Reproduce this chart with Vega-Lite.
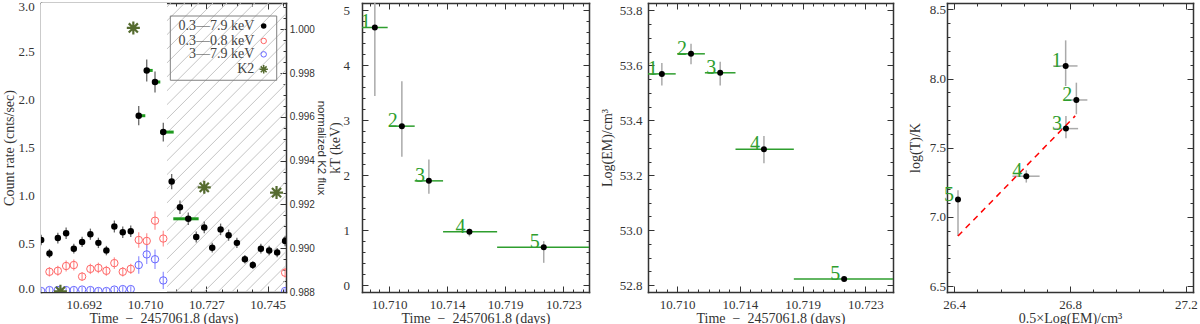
{
  "$schema": "https://vega.github.io/schema/vega-lite/v6.json",
  "background": "white",
  "padding": {"left": 2, "top": 0, "right": 0, "bottom": 0},
  "spacing": 1,
  "config": {
    "view": {"stroke": null},
    "axis": {
      "domainColor": "#333333", "domainWidth": 1.5, "domainCap": "square",
      "tickColor": "#333333", "tickWidth": 1,
      "labelFont": "Liberation Serif", "labelFontSize": 13, "labelColor": "#333333",
      "titleFont": "Liberation Serif", "titleFontSize": 14, "titleFontWeight": "normal", "titleColor": "#333333",
      "grid": false, "labelFlush": false, "labelOverlap": false, "zindex": 1
    }
  },
  "datasets": {
    "black": [
      {"t": 10.67975, "v": 0.54, "lo": 0.485, "hi": 0.595},
      {"t": 10.68213, "v": 0.40, "lo": 0.353, "hi": 0.447},
      {"t": 10.68454, "v": 0.56, "lo": 0.504, "hi": 0.616},
      {"t": 10.68692, "v": 0.61, "lo": 0.551, "hi": 0.669},
      {"t": 10.68913, "v": 0.45, "lo": 0.40, "hi": 0.50},
      {"t": 10.69151, "v": 0.52, "lo": 0.466, "hi": 0.574},
      {"t": 10.69389, "v": 0.60, "lo": 0.542, "hi": 0.658},
      {"t": 10.69619, "v": 0.51, "lo": 0.456, "hi": 0.564},
      {"t": 10.69849, "v": 0.43, "lo": 0.381, "hi": 0.479},
      {"t": 10.70078, "v": 0.68, "lo": 0.618, "hi": 0.742},
      {"t": 10.70319, "v": 0.62, "lo": 0.561, "hi": 0.679},
      {"t": 10.70549, "v": 0.63, "lo": 0.57, "hi": 0.69},
      {"t": 10.70778, "v": 1.83, "lo": 1.73, "hi": 1.93},
      {"t": 10.71008, "v": 2.30, "lo": 2.186, "hi": 2.414},
      {"t": 10.71246, "v": 2.18, "lo": 2.07, "hi": 2.29},
      {"t": 10.71484, "v": 1.66, "lo": 1.563, "hi": 1.757},
      {"t": 10.71725, "v": 1.146, "lo": 1.066, "hi": 1.226},
      {"t": 10.71963, "v": 0.88, "lo": 0.81, "hi": 0.95},
      {"t": 10.72202, "v": 0.76, "lo": 0.695, "hi": 0.825},
      {"t": 10.72431, "v": 0.57, "lo": 0.513, "hi": 0.627},
      {"t": 10.72661, "v": 0.67, "lo": 0.609, "hi": 0.731},
      {"t": 10.7289, "v": 0.46, "lo": 0.409, "hi": 0.511},
      {"t": 10.73131, "v": 0.65, "lo": 0.59, "hi": 0.71},
      {"t": 10.73361, "v": 0.59, "lo": 0.532, "hi": 0.648},
      {"t": 10.73599, "v": 0.51, "lo": 0.456, "hi": 0.564},
      {"t": 10.73829, "v": 0.34, "lo": 0.296, "hi": 0.384},
      {"t": 10.74058, "v": 0.28, "lo": 0.24, "hi": 0.32},
      {"t": 10.74288, "v": 0.45, "lo": 0.40, "hi": 0.50},
      {"t": 10.74526, "v": 0.43, "lo": 0.381, "hi": 0.479},
      {"t": 10.74756, "v": 0.41, "lo": 0.362, "hi": 0.458},
      {"t": 10.74985, "v": 0.53, "lo": 0.475, "hi": 0.585}
    ],
    "red": [
      {"t": 10.68213, "v": 0.21, "lo": 0.16, "hi": 0.26},
      {"t": 10.68454, "v": 0.22, "lo": 0.168, "hi": 0.272},
      {"t": 10.68692, "v": 0.27, "lo": 0.213, "hi": 0.327},
      {"t": 10.68913, "v": 0.28, "lo": 0.222, "hi": 0.338},
      {"t": 10.69151, "v": 0.16, "lo": 0.116, "hi": 0.204},
      {"t": 10.69389, "v": 0.24, "lo": 0.186, "hi": 0.294},
      {"t": 10.69619, "v": 0.25, "lo": 0.195, "hi": 0.305},
      {"t": 10.69849, "v": 0.22, "lo": 0.168, "hi": 0.272},
      {"t": 10.70078, "v": 0.30, "lo": 0.24, "hi": 0.36},
      {"t": 10.70319, "v": 0.21, "lo": 0.16, "hi": 0.26},
      {"t": 10.70549, "v": 0.24, "lo": 0.186, "hi": 0.294},
      {"t": 10.70778, "v": 0.54, "lo": 0.459, "hi": 0.621},
      {"t": 10.71008, "v": 0.53, "lo": 0.45, "hi": 0.61},
      {"t": 10.71246, "v": 0.74, "lo": 0.645, "hi": 0.835},
      {"t": 10.71484, "v": 0.555, "lo": 0.473, "hi": 0.637},
      {"t": 10.74985, "v": 0.20, "lo": 0.151, "hi": 0.249}
    ],
    "blue": [
      {"t": 10.67975, "v": 0.01, "lo": -0.02, "hi": 0.04},
      {"t": 10.68213, "v": 0.02, "lo": -0.01, "hi": 0.05},
      {"t": 10.68454, "v": 0.02, "lo": -0.01, "hi": 0.05},
      {"t": 10.68692, "v": 0.02, "lo": -0.01, "hi": 0.05},
      {"t": 10.68913, "v": 0.02, "lo": -0.01, "hi": 0.05},
      {"t": 10.69151, "v": 0.025, "lo": -0.005, "hi": 0.055},
      {"t": 10.69389, "v": 0.02, "lo": -0.01, "hi": 0.05},
      {"t": 10.69619, "v": 0.01, "lo": -0.02, "hi": 0.04},
      {"t": 10.69849, "v": 0.01, "lo": -0.02, "hi": 0.04},
      {"t": 10.70078, "v": 0.025, "lo": -0.005, "hi": 0.055},
      {"t": 10.70319, "v": 0.03, "lo": 0.0, "hi": 0.06},
      {"t": 10.70549, "v": 0.03, "lo": 0.0, "hi": 0.06},
      {"t": 10.70778, "v": 0.28, "lo": 0.19, "hi": 0.37},
      {"t": 10.71008, "v": 0.39, "lo": 0.29, "hi": 0.49},
      {"t": 10.71246, "v": 0.34, "lo": 0.24, "hi": 0.44},
      {"t": 10.71484, "v": 0.12, "lo": 0.03, "hi": 0.21},
      {"t": 10.74985, "v": 0.01, "lo": -0.02, "hi": 0.04}
    ],
    "k2": [
      {"t": 10.68528, "f": 0.98803},
      {"t": 10.70623, "f": 1.00006},
      {"t": 10.72661, "f": 0.99278},
      {"t": 10.74738, "f": 0.99254}
    ],
    "gbar": [
      {"t1": 10.70778, "t2": 10.70967, "v": 1.83},
      {"t1": 10.71008, "t2": 10.7118, "v": 2.30},
      {"t1": 10.71246, "t2": 10.71398, "v": 2.18},
      {"t1": 10.7139, "t2": 10.71783, "v": 1.66},
      {"t1": 10.71771, "t2": 10.725, "v": 0.76}
    ],
    "hatch": [
      {"h0": 10.634, "h1": 10.717}, {"h0": 10.638, "h1": 10.721}, {"h0": 10.642, "h1": 10.725},
      {"h0": 10.6461, "h1": 10.7291}, {"h0": 10.6501, "h1": 10.7331}, {"h0": 10.6541, "h1": 10.7371},
      {"h0": 10.6581, "h1": 10.7411}, {"h0": 10.6621, "h1": 10.7451}, {"h0": 10.6662, "h1": 10.7492},
      {"h0": 10.6702, "h1": 10.7532}, {"h0": 10.6742, "h1": 10.7572}, {"h0": 10.6782, "h1": 10.7612},
      {"h0": 10.6822, "h1": 10.7652}, {"h0": 10.6863, "h1": 10.7693}, {"h0": 10.6903, "h1": 10.7733},
      {"h0": 10.6943, "h1": 10.7773}, {"h0": 10.6983, "h1": 10.7813}, {"h0": 10.7023, "h1": 10.7853},
      {"h0": 10.7064, "h1": 10.7894}, {"h0": 10.7104, "h1": 10.7934}, {"h0": 10.7144, "h1": 10.7974},
      {"h0": 10.7184, "h1": 10.8014}, {"h0": 10.7224, "h1": 10.8054}, {"h0": 10.7265, "h1": 10.8095},
      {"h0": 10.7305, "h1": 10.8135}, {"h0": 10.7345, "h1": 10.8175}, {"h0": 10.7385, "h1": 10.8215},
      {"h0": 10.7425, "h1": 10.8255}, {"h0": 10.7466, "h1": 10.8296}
    ],
    "bins": [
      {"bin": "1", "t": 10.70895, "t1": 10.7078, "t2": 10.7099, "kT": 4.685, "kTlo": 3.44, "kThi": 5.93, "em": 53.569, "emlo": 53.527, "emhi": 53.609, "hx": 26.785, "hxlo": 26.742, "hxhi": 26.826, "lt": 8.091, "ltlo": 7.946, "lthi": 8.276},
      {"bin": "2", "t": 10.71095, "t1": 10.71, "t2": 10.7119, "kT": 2.893, "kTlo": 2.335, "kThi": 3.71, "em": 53.642, "emlo": 53.604, "emhi": 53.679, "hx": 26.822, "hxlo": 26.785, "hxhi": 26.86, "lt": 7.845, "ltlo": 7.742, "lthi": 7.97},
      {"bin": "3", "t": 10.71295, "t1": 10.7119, "t2": 10.714, "kT": 1.899, "kTlo": 1.663, "kThi": 2.288, "em": 53.573, "emlo": 53.527, "emhi": 53.613, "hx": 26.786, "hxlo": 26.745, "hxhi": 26.828, "lt": 7.638, "ltlo": 7.568, "lthi": 7.73},
      {"bin": "4", "t": 10.71595, "t1": 10.714, "t2": 10.718, "kT": 0.973, "kTlo": 0.89, "kThi": 1.028, "em": 53.295, "emlo": 53.244, "emhi": 53.343, "hx": 26.649, "hxlo": 26.601, "hxhi": 26.695, "lt": 7.294, "ltlo": 7.248, "lthi": 7.337},
      {"bin": "5", "t": 10.72145, "t1": 10.718, "t2": 10.7255, "kT": 0.695, "kTlo": 0.41, "kThi": 0.804, "em": 52.822, "emlo": 52.817, "emhi": 52.827, "hx": 26.413, "hxlo": 26.413, "hxhi": 26.413, "lt": 7.125, "ltlo": 6.862, "lthi": 7.193}
    ],
    "fit": [
      {"x": 26.413, "y": 6.862},
      {"x": 26.818, "y": 7.73}
    ]
  },
  "hconcat": [
    {
      "width": 245, "height": 289,
      "layer": [
        {
          "layer": [
            {
              "data": {"name": "hatch"},
              "mark": {"type": "rule", "color": "#c4c4c4", "strokeWidth": 1, "clip": true},
              "encoding": {
                "x": {"field": "h0", "type": "quantitative", "scale": {"domain": [10.6797, 10.7501], "nice": false, "zero": false}, "axis": null},
                "x2": {"field": "h1"},
                "y": {"datum": 0, "type": "quantitative", "scale": {"domain": [0, 3], "nice": false, "zero": false}, "axis": null},
                "y2": {"datum": 3}
              }
            },
            {
              "data": {"values": [{}]},
              "mark": {"type": "rect", "color": "white", "opacity": 1},
              "encoding": {
                "x": {"datum": 10.6797, "type": "quantitative", "scale": {"domain": [10.6797, 10.7501], "nice": false, "zero": false}, "axis": null},
                "x2": {"datum": 10.7159},
                "y": {"datum": 0, "type": "quantitative", "scale": {"domain": [0, 3], "nice": false, "zero": false}, "axis": null},
                "y2": {"datum": 3}
              }
            },
            {
              "data": {"values": [{}]},
              "mark": {"type": "rect", "fill": null, "fillOpacity": 0, "stroke": "#808080", "strokeWidth": 1},
              "encoding": {
                "x": {"datum": 10.71686, "type": "quantitative", "scale": {"domain": [10.6797, 10.7501], "nice": false, "zero": false}, "axis": null},
                "x2": {"datum": 10.74743},
                "y": {"datum": 2.198, "type": "quantitative", "scale": {"domain": [0, 3], "nice": false, "zero": false}, "axis": null},
                "y2": {"datum": 2.865}
              }
            },
            {
              "data": {"name": "black"},
              "mark": {"type": "rule", "color": "#666666", "strokeWidth": 1.3, "clip": true},
              "encoding": {
                "x": {"field": "t", "type": "quantitative", "scale": {"domain": [10.6797, 10.7501], "nice": false, "zero": false},
                  "axis": {"orient": "bottom", "title": "Time\u2002\u2212\u20022457061.8 (days)",
                    "values": [10.6832, 10.6876, 10.692, 10.6964, 10.7008, 10.7052, 10.7096, 10.714, 10.7184, 10.7228, 10.7272, 10.7316, 10.736, 10.7404, 10.7448, 10.7492],
                    "labelExpr": "abs((datum.value-10.692)/0.0176-round((datum.value-10.692)/0.0176))<0.05 ? format(datum.value, '.3f') : ''",
                    "tickSize": {"condition": {"test": "abs((datum.value-10.692)/0.0176-round((datum.value-10.692)/0.0176))<0.05", "value": -6}, "value": -3},
                    "labelPadding": 12.3, "titlePadding": -2.5}},
                "y": {"field": "lo", "type": "quantitative", "scale": {"domain": [0, 3], "nice": false, "zero": false},
                  "axis": {"orient": "left", "title": "Count rate (cnts/sec)",
                    "values": [0, 0.1, 0.2, 0.3, 0.4, 0.5, 0.6, 0.7, 0.8, 0.9, 1, 1.1, 1.2, 1.3, 1.4, 1.5, 1.6, 1.7, 1.8, 1.9, 2, 2.1, 2.2, 2.3, 2.4, 2.5, 2.6, 2.7, 2.8, 2.9, 3],
                    "labelExpr": "abs(datum.value*2-round(datum.value*2))<0.01 ? format(datum.value, '.1f') : ''",
                    "tickSize": {"condition": {"test": "abs(datum.value*2-round(datum.value*2))<0.01", "value": -6}, "value": -3},
                    "labelFlush": 2, "labelFlushOffset": 3,
                    "labelPadding": 12.7, "titlePadding": 2}},
                "y2": {"field": "hi"}
              }
            },
            {
              "data": {"name": "red"},
              "mark": {"type": "rule", "color": "#ff9a9a", "strokeWidth": 1.3, "clip": true},
              "encoding": {
                "x": {"field": "t", "type": "quantitative", "scale": {"domain": [10.6797, 10.7501], "nice": false, "zero": false}, "axis": null},
                "y": {"field": "lo", "type": "quantitative", "scale": {"domain": [0, 3], "nice": false, "zero": false}, "axis": null},
                "y2": {"field": "hi"}
              }
            },
            {
              "data": {"name": "blue"},
              "mark": {"type": "rule", "color": "#9a9aff", "strokeWidth": 1.3, "clip": true},
              "encoding": {
                "x": {"field": "t", "type": "quantitative", "scale": {"domain": [10.6797, 10.7501], "nice": false, "zero": false}, "axis": null},
                "y": {"field": "lo", "type": "quantitative", "scale": {"domain": [0, 3], "nice": false, "zero": false}, "axis": null},
                "y2": {"field": "hi"}
              }
            },
            {
              "data": {"name": "red"},
              "mark": {"type": "point", "shape": "circle", "filled": false, "color": "#ff6666", "size": 55, "strokeWidth": 1, "opacity": 1, "clip": true},
              "encoding": {
                "x": {"field": "t", "type": "quantitative", "scale": {"domain": [10.6797, 10.7501], "nice": false, "zero": false}, "axis": null},
                "y": {"field": "v", "type": "quantitative", "scale": {"domain": [0, 3], "nice": false, "zero": false}, "axis": null}
              }
            },
            {
              "data": {"name": "blue"},
              "mark": {"type": "point", "shape": "circle", "filled": false, "color": "#6666ff", "size": 55, "strokeWidth": 1, "opacity": 1, "clip": true},
              "encoding": {
                "x": {"field": "t", "type": "quantitative", "scale": {"domain": [10.6797, 10.7501], "nice": false, "zero": false}, "axis": null},
                "y": {"field": "v", "type": "quantitative", "scale": {"domain": [0, 3], "nice": false, "zero": false}, "axis": null}
              }
            },
            {
              "data": {"name": "gbar"},
              "mark": {"type": "rule", "color": "#1f9a1f", "strokeWidth": 3, "clip": true},
              "encoding": {
                "x": {"field": "t1", "type": "quantitative", "scale": {"domain": [10.6797, 10.7501], "nice": false, "zero": false}, "axis": null},
                "x2": {"field": "t2"},
                "y": {"field": "v", "type": "quantitative", "scale": {"domain": [0, 3], "nice": false, "zero": false}, "axis": null}
              }
            },
            {
              "data": {"name": "black"},
              "mark": {"type": "point", "shape": "circle", "filled": true, "color": "black", "size": 42, "opacity": 1, "clip": true},
              "encoding": {
                "x": {"field": "t", "type": "quantitative", "scale": {"domain": [10.6797, 10.7501], "nice": false, "zero": false},
                  "axis": {"orient": "top", "title": null, "labels": false,
                    "values": [10.6832, 10.6876, 10.692, 10.6964, 10.7008, 10.7052, 10.7096, 10.714, 10.7184, 10.7228, 10.7272, 10.7316, 10.736, 10.7404, 10.7448, 10.7492],
                    "tickSize": {"condition": {"test": "abs((datum.value-10.692)/0.0176-round((datum.value-10.692)/0.0176))<0.05", "value": -6}, "value": -3}}},
                "y": {"field": "v", "type": "quantitative", "scale": {"domain": [0, 3], "nice": false, "zero": false}, "axis": null}
              }
            },
            {
              "data": {"values": [{}]},
              "mark": {"type": "text", "text": "0.3\u20147.9 keV", "align": "right", "baseline": "middle", "font": "Liberation Serif", "fontSize": 14, "color": "#444444"},
              "encoding": {
                "x": {"datum": 10.74099, "type": "quantitative", "scale": {"domain": [10.6797, 10.7501], "nice": false, "zero": false}, "axis": null},
                "y": {"datum": 2.761, "type": "quantitative", "scale": {"domain": [0, 3], "nice": false, "zero": false}, "axis": null}
              }
            },
            {
              "data": {"values": [{}]},
              "mark": {"type": "text", "text": "0.3\u20140.8 keV", "align": "right", "baseline": "middle", "font": "Liberation Serif", "fontSize": 14, "color": "#444444"},
              "encoding": {
                "x": {"datum": 10.74099, "type": "quantitative", "scale": {"domain": [10.6797, 10.7501], "nice": false, "zero": false}, "axis": null},
                "y": {"datum": 2.606, "type": "quantitative", "scale": {"domain": [0, 3], "nice": false, "zero": false}, "axis": null}
              }
            },
            {
              "data": {"values": [{}]},
              "mark": {"type": "text", "text": "3\u20147.9 keV", "align": "right", "baseline": "middle", "font": "Liberation Serif", "fontSize": 14, "color": "#444444"},
              "encoding": {
                "x": {"datum": 10.74099, "type": "quantitative", "scale": {"domain": [10.6797, 10.7501], "nice": false, "zero": false}, "axis": null},
                "y": {"datum": 2.467, "type": "quantitative", "scale": {"domain": [0, 3], "nice": false, "zero": false}, "axis": null}
              }
            },
            {
              "data": {"values": [{}]},
              "mark": {"type": "text", "text": "K2", "align": "right", "baseline": "middle", "font": "Liberation Serif", "fontSize": 14, "color": "#444444"},
              "encoding": {
                "x": {"datum": 10.74099, "type": "quantitative", "scale": {"domain": [10.6797, 10.7501], "nice": false, "zero": false}, "axis": null},
                "y": {"datum": 2.312, "type": "quantitative", "scale": {"domain": [0, 3], "nice": false, "zero": false}, "axis": null}
              }
            },
            {
              "data": {"values": [{}]},
              "mark": {"type": "point", "shape": "circle", "filled": true, "color": "black", "size": 30, "opacity": 1},
              "encoding": {
                "x": {"datum": 10.74369, "type": "quantitative", "scale": {"domain": [10.6797, 10.7501], "nice": false, "zero": false}, "axis": null},
                "y": {"datum": 2.761, "type": "quantitative", "scale": {"domain": [0, 3], "nice": false, "zero": false}, "axis": null}
              }
            },
            {
              "data": {"values": [{}]},
              "mark": {"type": "point", "shape": "circle", "filled": false, "color": "#ff6666", "size": 30, "strokeWidth": 1, "opacity": 1},
              "encoding": {
                "x": {"datum": 10.74369, "type": "quantitative", "scale": {"domain": [10.6797, 10.7501], "nice": false, "zero": false}, "axis": null},
                "y": {"datum": 2.606, "type": "quantitative", "scale": {"domain": [0, 3], "nice": false, "zero": false}, "axis": null}
              }
            },
            {
              "data": {"values": [{}]},
              "mark": {"type": "point", "shape": "circle", "filled": false, "color": "#6666ff", "size": 30, "strokeWidth": 1, "opacity": 1},
              "encoding": {
                "x": {"datum": 10.74369, "type": "quantitative", "scale": {"domain": [10.6797, 10.7501], "nice": false, "zero": false}, "axis": null},
                "y": {"datum": 2.467, "type": "quantitative", "scale": {"domain": [0, 3], "nice": false, "zero": false}, "axis": null}
              }
            },
            {
              "data": {"values": [{}]},
              "mark": {"type": "point", "shape": "M-1,0L1,0M0,-1L0,1M-0.7,-0.7L0.7,0.7M-0.7,0.7L0.7,-0.7", "filled": false, "color": "#556b2f", "size": 70, "strokeWidth": 1.5, "opacity": 1},
              "encoding": {
                "x": {"datum": 10.74369, "type": "quantitative", "scale": {"domain": [10.6797, 10.7501], "nice": false, "zero": false}, "axis": null},
                "y": {"datum": 2.312, "type": "quantitative", "scale": {"domain": [0, 3], "nice": false, "zero": false}, "axis": null}
              }
            }
          ],
          "resolve": {"axis": {"x": "independent", "y": "independent"}}
        },
        {
          "data": {"name": "k2"},
          "mark": {"type": "point", "shape": "M-1,0L1,0M0,-1L0,1M-0.7,-0.7L0.7,0.7M-0.7,0.7L0.7,-0.7", "filled": false, "color": "#556b2f", "size": 170, "strokeWidth": 2.2, "opacity": 1, "clip": true},
          "encoding": {
            "x": {"field": "t", "type": "quantitative", "scale": {"domain": [10.6797, 10.7501], "nice": false, "zero": false}, "axis": null},
            "y": {"field": "f", "type": "quantitative", "scale": {"domain": [0.988, 1.0012], "nice": false, "zero": false},
              "axis": {"orient": "right", "title": "normalized K2 flux",
                "values": [0.988, 0.9885, 0.989, 0.9895, 0.99, 0.9905, 0.991, 0.9915, 0.992, 0.9925, 0.993, 0.9935, 0.994, 0.9945, 0.995, 0.9955, 0.996, 0.9965, 0.997, 0.9975, 0.998, 0.9985, 0.999, 0.9995, 1.0, 1.0005, 1.001],
                "labelExpr": "abs((datum.value-0.988)/0.002-round((datum.value-0.988)/0.002))<0.05 ? format(datum.value, '.3f') : ''",
                "tickSize": {"condition": {"test": "abs((datum.value-0.988)/0.002-round((datum.value-0.988)/0.002))<0.05", "value": -6}, "value": -3},
                "labelFont": "Liberation Sans", "labelFontSize": 10, "titleFont": "Liberation Sans", "titleFontSize": 11.5,
                "labelPadding": 9.3, "titlePadding": 1}}
          }
        }
      ],
      "resolve": {"scale": {"y": "independent"}, "axis": {"x": "independent", "y": "independent"}}
    },
    {
      "width": 227, "height": 289,
      "data": {"name": "bins"},
      "layer": [
        {
          "mark": {"type": "rule", "color": "#aaaaaa", "strokeWidth": 1.5, "clip": true},
          "encoding": {
            "x": {"field": "t", "type": "quantitative", "scale": {"domain": [10.708, 10.7248], "nice": false, "zero": false},
              "axis": {"orient": "bottom", "title": "Time\u2002\u2212\u20022457061.8 (days)",
                "values": [10.70857, 10.70928, 10.71, 10.71072, 10.71143, 10.71215, 10.71287, 10.71358, 10.7143, 10.71502, 10.71573, 10.71645, 10.71717, 10.71788, 10.7186, 10.71932, 10.72003, 10.72075, 10.72147, 10.72218, 10.7229, 10.72362, 10.72433],
                "labelExpr": "abs((datum.value-10.71)/0.0043-round((datum.value-10.71)/0.0043))<0.05 ? format(datum.value, '.3f') : ''",
                "tickSize": {"condition": {"test": "abs((datum.value-10.71)/0.0043-round((datum.value-10.71)/0.0043))<0.05", "value": -6}, "value": -3},
                "labelPadding": 12.3, "titlePadding": -2.5}},
            "y": {"field": "kTlo", "type": "quantitative", "scale": {"domain": [-0.12, 5.13], "nice": false, "zero": false},
              "axis": {"orient": "left", "title": "kT (keV)",
                "values": [0, 0.2, 0.4, 0.6, 0.8, 1, 1.2, 1.4, 1.6, 1.8, 2, 2.2, 2.4, 2.6, 2.8, 3, 3.2, 3.4, 3.6, 3.8, 4, 4.2, 4.4, 4.6, 4.8, 5],
                "labelExpr": "abs(datum.value-round(datum.value))<0.01 ? format(datum.value, '.0f') : ''",
                "tickSize": {"condition": {"test": "abs(datum.value-round(datum.value))<0.01", "value": -6}, "value": -3},
                "labelPadding": 18.5, "titlePadding": 1}},
            "y2": {"field": "kThi"}
          }
        },
        {
          "mark": {"type": "rule", "color": "#2e9e2e", "strokeWidth": 1.5, "clip": true},
          "encoding": {
            "x": {"field": "t1", "type": "quantitative", "scale": {"domain": [10.708, 10.7248], "nice": false, "zero": false},
              "axis": {"orient": "top", "title": null, "labels": false,
                "values": [10.70857, 10.70928, 10.71, 10.71072, 10.71143, 10.71215, 10.71287, 10.71358, 10.7143, 10.71502, 10.71573, 10.71645, 10.71717, 10.71788, 10.7186, 10.71932, 10.72003, 10.72075, 10.72147, 10.72218, 10.7229, 10.72362, 10.72433],
                "tickSize": {"condition": {"test": "abs((datum.value-10.71)/0.0043-round((datum.value-10.71)/0.0043))<0.05", "value": -6}, "value": -3}}},
            "x2": {"field": "t2"},
            "y": {"field": "kT", "type": "quantitative", "scale": {"domain": [-0.12, 5.13], "nice": false, "zero": false},
              "axis": {"orient": "right", "title": null, "labels": false,
                "values": [0, 0.2, 0.4, 0.6, 0.8, 1, 1.2, 1.4, 1.6, 1.8, 2, 2.2, 2.4, 2.6, 2.8, 3, 3.2, 3.4, 3.6, 3.8, 4, 4.2, 4.4, 4.6, 4.8, 5],
                "tickSize": {"condition": {"test": "abs(datum.value-round(datum.value))<0.01", "value": -6}, "value": -3},
                "minExtent": 9.7, "maxExtent": 9.7}}
          }
        },
        {
          "mark": {"type": "point", "shape": "circle", "filled": true, "color": "black", "size": 36, "opacity": 1, "clip": true},
          "encoding": {
            "x": {"field": "t", "type": "quantitative", "scale": {"domain": [10.708, 10.7248], "nice": false, "zero": false}, "axis": null},
            "y": {"field": "kT", "type": "quantitative", "scale": {"domain": [-0.12, 5.13], "nice": false, "zero": false}, "axis": null}
          }
        },
        {
          "mark": {"type": "text", "font": "Liberation Serif", "fontSize": 20, "color": "#2e9e2e", "dx": -9, "dy": 1, "align": "center", "baseline": "alphabetic"},
          "encoding": {
            "x": {"field": "t", "type": "quantitative", "scale": {"domain": [10.708, 10.7248], "nice": false, "zero": false}, "axis": null},
            "y": {"field": "kT", "type": "quantitative", "scale": {"domain": [-0.12, 5.13], "nice": false, "zero": false}, "axis": null},
            "text": {"field": "bin", "type": "nominal"}
          }
        }
      ],
      "resolve": {"axis": {"x": "independent", "y": "independent"}}
    },
    {
      "width": 245, "height": 289,
      "data": {"name": "bins"},
      "layer": [
        {
          "mark": {"type": "rule", "color": "#aaaaaa", "strokeWidth": 1.5, "clip": true},
          "encoding": {
            "x": {"field": "t", "type": "quantitative", "scale": {"domain": [10.708, 10.7248], "nice": false, "zero": false},
              "axis": {"orient": "bottom", "title": "Time\u2002\u2212\u20022457061.8 (days)",
                "values": [10.70857, 10.70928, 10.71, 10.71072, 10.71143, 10.71215, 10.71287, 10.71358, 10.7143, 10.71502, 10.71573, 10.71645, 10.71717, 10.71788, 10.7186, 10.71932, 10.72003, 10.72075, 10.72147, 10.72218, 10.7229, 10.72362, 10.72433],
                "labelExpr": "abs((datum.value-10.71)/0.0043-round((datum.value-10.71)/0.0043))<0.05 ? format(datum.value, '.3f') : ''",
                "tickSize": {"condition": {"test": "abs((datum.value-10.71)/0.0043-round((datum.value-10.71)/0.0043))<0.05", "value": -6}, "value": -3},
                "labelPadding": 12.3, "titlePadding": -2.5}},
            "y": {"field": "emlo", "type": "quantitative", "scale": {"domain": [52.775, 53.827], "nice": false, "zero": false},
              "axis": {"orient": "left", "title": "Log(EM)/cm\u00b3",
                "values": [52.8, 52.85, 52.9, 52.95, 53, 53.05, 53.1, 53.15, 53.2, 53.25, 53.3, 53.35, 53.4, 53.45, 53.5, 53.55, 53.6, 53.65, 53.7, 53.75, 53.8],
                "labelExpr": "abs((datum.value-52.8)/0.2-round((datum.value-52.8)/0.2))<0.05 ? format(datum.value, '.1f') : ''",
                "tickSize": {"condition": {"test": "abs((datum.value-52.8)/0.2-round((datum.value-52.8)/0.2))<0.05", "value": -6}, "value": -3},
                "labelPadding": 12, "titlePadding": 5}},
            "y2": {"field": "emhi"}
          }
        },
        {
          "mark": {"type": "rule", "color": "#2e9e2e", "strokeWidth": 1.5, "clip": true},
          "encoding": {
            "x": {"field": "t1", "type": "quantitative", "scale": {"domain": [10.708, 10.7248], "nice": false, "zero": false},
              "axis": {"orient": "top", "title": null, "labels": false,
                "values": [10.70857, 10.70928, 10.71, 10.71072, 10.71143, 10.71215, 10.71287, 10.71358, 10.7143, 10.71502, 10.71573, 10.71645, 10.71717, 10.71788, 10.7186, 10.71932, 10.72003, 10.72075, 10.72147, 10.72218, 10.7229, 10.72362, 10.72433],
                "tickSize": {"condition": {"test": "abs((datum.value-10.71)/0.0043-round((datum.value-10.71)/0.0043))<0.05", "value": -6}, "value": -3}}},
            "x2": {"field": "t2"},
            "y": {"field": "em", "type": "quantitative", "scale": {"domain": [52.775, 53.827], "nice": false, "zero": false},
              "axis": {"orient": "right", "title": null, "labels": false,
                "values": [52.8, 52.85, 52.9, 52.95, 53, 53.05, 53.1, 53.15, 53.2, 53.25, 53.3, 53.35, 53.4, 53.45, 53.5, 53.55, 53.6, 53.65, 53.7, 53.75, 53.8],
                "tickSize": {"condition": {"test": "abs((datum.value-52.8)/0.2-round((datum.value-52.8)/0.2))<0.05", "value": -6}, "value": -3},
                "minExtent": 13.7, "maxExtent": 13.7}}
          }
        },
        {
          "mark": {"type": "point", "shape": "circle", "filled": true, "color": "black", "size": 36, "opacity": 1, "clip": true},
          "encoding": {
            "x": {"field": "t", "type": "quantitative", "scale": {"domain": [10.708, 10.7248], "nice": false, "zero": false}, "axis": null},
            "y": {"field": "em", "type": "quantitative", "scale": {"domain": [52.775, 53.827], "nice": false, "zero": false}, "axis": null}
          }
        },
        {
          "mark": {"type": "text", "font": "Liberation Serif", "fontSize": 20, "color": "#2e9e2e", "dx": -9, "dy": 1, "align": "center", "baseline": "alphabetic"},
          "encoding": {
            "x": {"field": "t", "type": "quantitative", "scale": {"domain": [10.708, 10.7248], "nice": false, "zero": false}, "axis": null},
            "y": {"field": "em", "type": "quantitative", "scale": {"domain": [52.775, 53.827], "nice": false, "zero": false}, "axis": null},
            "text": {"field": "bin", "type": "nominal"}
          }
        }
      ],
      "resolve": {"axis": {"x": "independent", "y": "independent"}}
    },
    {
      "width": 246, "height": 289,
      "layer": [
        {
          "data": {"name": "bins"},
          "mark": {"type": "rule", "color": "#aaaaaa", "strokeWidth": 1.5, "clip": true},
          "encoding": {
            "x": {"field": "hx", "type": "quantitative", "scale": {"domain": [26.375, 27.225], "nice": false, "zero": false},
              "axis": {"orient": "bottom", "title": "0.5\u00d7Log(EM)/cm\u00b3",
                "values": [26.4, 26.48, 26.56, 26.64, 26.72, 26.8, 26.88, 26.96, 27.04, 27.12, 27.2],
                "labelExpr": "abs((datum.value-26.4)/0.4-round((datum.value-26.4)/0.4))<0.05 ? format(datum.value, '.1f') : ''",
                "tickSize": {"condition": {"test": "abs((datum.value-26.4)/0.4-round((datum.value-26.4)/0.4))<0.05", "value": -6}, "value": -3},
                "labelPadding": 12.3, "titlePadding": -2.5}},
            "y": {"field": "ltlo", "type": "quantitative", "scale": {"domain": [6.457, 8.546], "nice": false, "zero": false},
              "axis": {"orient": "left", "title": "log(T)/K",
                "values": [6.5, 6.6, 6.7, 6.8, 6.9, 7, 7.1, 7.2, 7.3, 7.4, 7.5, 7.6, 7.7, 7.8, 7.9, 8, 8.1, 8.2, 8.3, 8.4, 8.5],
                "labelExpr": "abs(datum.value*2-round(datum.value*2))<0.01 ? format(datum.value, '.1f') : ''",
                "tickSize": {"condition": {"test": "abs(datum.value*2-round(datum.value*2))<0.01", "value": -6}, "value": -3},
                "labelPadding": 7.5, "titlePadding": 6.3}},
            "y2": {"field": "lthi"}
          }
        },
        {
          "data": {"name": "bins"},
          "mark": {"type": "rule", "color": "#aaaaaa", "strokeWidth": 1.5, "clip": true},
          "encoding": {
            "x": {"field": "hxlo", "type": "quantitative", "scale": {"domain": [26.375, 27.225], "nice": false, "zero": false},
              "axis": {"orient": "top", "title": null, "labels": false,
                "values": [26.4, 26.48, 26.56, 26.64, 26.72, 26.8, 26.88, 26.96, 27.04, 27.12, 27.2],
                "tickSize": {"condition": {"test": "abs((datum.value-26.4)/0.4-round((datum.value-26.4)/0.4))<0.05", "value": -6}, "value": -3}}},
            "x2": {"field": "hxhi"},
            "y": {"field": "lt", "type": "quantitative", "scale": {"domain": [6.457, 8.546], "nice": false, "zero": false},
              "axis": {"orient": "right", "title": null, "labels": false,
                "values": [6.5, 6.6, 6.7, 6.8, 6.9, 7, 7.1, 7.2, 7.3, 7.4, 7.5, 7.6, 7.7, 7.8, 7.9, 8, 8.1, 8.2, 8.3, 8.4, 8.5],
                "tickSize": {"condition": {"test": "abs(datum.value*2-round(datum.value*2))<0.01", "value": -6}, "value": -3}}}
          }
        },
        {
          "data": {"name": "fit"},
          "mark": {"type": "line", "color": "#ff0000", "strokeWidth": 1.5, "strokeDash": [6, 5], "clip": true},
          "encoding": {
            "x": {"field": "x", "type": "quantitative", "scale": {"domain": [26.375, 27.225], "nice": false, "zero": false}, "axis": null},
            "y": {"field": "y", "type": "quantitative", "scale": {"domain": [6.457, 8.546], "nice": false, "zero": false}, "axis": null}
          }
        },
        {
          "data": {"name": "bins"},
          "mark": {"type": "point", "shape": "circle", "filled": true, "color": "black", "size": 36, "opacity": 1, "clip": true},
          "encoding": {
            "x": {"field": "hx", "type": "quantitative", "scale": {"domain": [26.375, 27.225], "nice": false, "zero": false}, "axis": null},
            "y": {"field": "lt", "type": "quantitative", "scale": {"domain": [6.457, 8.546], "nice": false, "zero": false}, "axis": null}
          }
        },
        {
          "data": {"name": "bins"},
          "mark": {"type": "text", "font": "Liberation Serif", "fontSize": 20, "color": "#2e9e2e", "dx": -9, "dy": 1, "align": "center", "baseline": "alphabetic"},
          "encoding": {
            "x": {"field": "hx", "type": "quantitative", "scale": {"domain": [26.375, 27.225], "nice": false, "zero": false}, "axis": null},
            "y": {"field": "lt", "type": "quantitative", "scale": {"domain": [6.457, 8.546], "nice": false, "zero": false}, "axis": null},
            "text": {"field": "bin", "type": "nominal"}
          }
        }
      ],
      "resolve": {"axis": {"x": "independent", "y": "independent"}}
    }
  ]
}
